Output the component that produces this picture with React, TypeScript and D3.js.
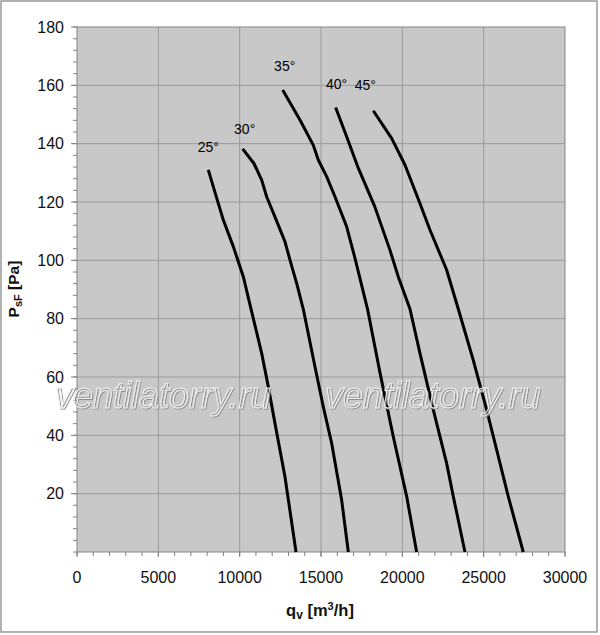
//@ts-nocheck
import React from "react";
import * as d3 from "d3";

// fan curves: [q_v m3/h, P_sF Pa]
const curve25 = [
  [8070, 131], [8995, 113.8], [9610, 104.7], [10225, 94.4], [10700, 83.3],
  [11355, 68.1], [11760, 56.7], [12170, 44.1], [12785, 25.8], [13465, 0],
];
const curve30 = [
  [10185, 138.2], [10880, 133.2], [11355, 127.5], [11660, 121.8], [12170, 114.9],
  [12785, 106.4], [13095, 100.1], [13505, 92.1], [13910, 83.3], [14630, 63.5],
  [15140, 49.8], [15655, 37.3], [16270, 17.8], [16680, 0],
];
const curve35 = [
  [12645, 158.4], [13710, 148.1], [14525, 139.5], [14835, 134.4], [15350, 128.7],
  [15860, 121.8], [16580, 111.5], [17100, 100.5], [17860, 83.3], [18625, 61.5],
  [19445, 39.5], [20270, 19], [20880, 0],
];
const curve40 = [
  [15900, 152.4], [16580, 142.4], [17300, 131.5], [18300, 118.5], [19240, 103.5],
  [19750, 94.4], [20470, 83.3], [21085, 68.1], [21905, 48.7], [22725, 30.4],
  [23135, 19], [23850, 0],
];
const curve45 = [
  [18215, 151.3], [19345, 141.8], [20165, 132.7], [21085, 119.5], [21700, 110.4],
  [22725, 96.7], [23440, 83.3], [24360, 65.8], [25185, 48.7], [25800, 35],
  [26515, 19], [27435, 0],
];
const angles = ["25°", "30°", "35°", "40°", "45°"];
const curves = [curve25, curve30, curve35, curve40, curve45];

const xTicks = [0, 5000, 10000, 15000, 20000, 25000, 30000];
const yTicks = [20, 40, 60, 80, 100, 120, 140, 160, 180];

const W = 600;
const H = 635;
const left = 77;
const right = 565;
const top = 27;
const bottom = 552;
const font = "Arial, 'Liberation Sans', sans-serif";

export default function App() {
  const x = d3.scaleLinear().domain([0, 30000]).range([left, right]);
  const y = d3.scaleLinear().domain([0, 180]).range([bottom, top]);
  const line = d3
    .line()
    .x((d) => x(d[0]))
    .y((d) => y(d[1]));

  const xMinor = d3.range(0, 30001, 1000);
  const yMinor = d3.range(0, 181, 4);

  return (
    <>
      <style>{`body{margin:0}`}</style>
      <svg width={W} height={H} style={{ display: "block", fontFamily: font }}>
        <defs>
          <filter id="emboss" x="-5%" y="-20%" width="110%" height="140%">
            <feOffset in="SourceAlpha" dx={0.8} dy={0.8} result="off" />
            <feFlood floodColor="#8c8c8c" />
            <feComposite in2="off" operator="in" result="shadow" />
            <feMerge>
              <feMergeNode in="shadow" />
              <feMergeNode in="SourceGraphic" />
            </feMerge>
          </filter>
        </defs>
        <rect x={0} y={0} width={W} height={H} fill="#fff" />
        <rect x={1} y={1} width={596} height={631} fill="none" stroke="#999" strokeWidth={1.5} />

        {/* plot area */}
        <rect x={left} y={top} width={right - left} height={bottom - top} fill="#c8c8c8" />
        {xTicks.slice(1, -1).map((t) => (
          <line key={"gx" + t} x1={x(t)} x2={x(t)} y1={top} y2={bottom} stroke="#9a9a9a" />
        ))}
        {yTicks.slice(0, -1).map((t) => (
          <line key={"gy" + t} x1={left} x2={right} y1={y(t)} y2={y(t)} stroke="#9a9a9a" />
        ))}
        <rect x={left} y={top} width={right - left} height={bottom - top} fill="none" stroke="#858585" />

        {/* y axis ticks */}
        {yMinor.map((t) => (
          <line key={"ym" + t} x1={left - 4} x2={left} y1={y(t)} y2={y(t)} stroke="#808080" />
        ))}
        {yTicks.map((t) => (
          <g key={"yt" + t}>
            <line x1={left - 6} x2={left} y1={y(t)} y2={y(t)} stroke="#808080" />
            <text x={64} y={y(t)} dy="0.36em" textAnchor="end" fontSize={16} fill="#111">
              {t}
            </text>
          </g>
        ))}

        {/* x axis ticks */}
        {xMinor.map((t) => (
          <line key={"xm" + t} x1={x(t)} x2={x(t)} y1={bottom} y2={bottom + 4} stroke="#808080" />
        ))}
        {xTicks.map((t) => (
          <g key={"xt" + t}>
            <line x1={x(t)} x2={x(t)} y1={bottom} y2={bottom + 5} stroke="#808080" />
            <text x={x(t)} y={583} textAnchor="middle" fontSize={16} fill="#111">
              {t}
            </text>
          </g>
        ))}

        {/* curves */}
        {curves.map((c, i) => (
          <path key={"c" + i} d={line(c)} fill="none" stroke="#000" strokeWidth={3} strokeLinejoin="round" />
        ))}
        {curves.map((c, i) => (
          <text
            key={"l" + i}
            x={x(c[0][0]) + [0, 2, 2, 1, -8][i]}
            y={y(c[0][1]) - [18, 15, 19, 19, 21][i]}
            textAnchor="middle"
            fontSize={14}
            fill="#000"
          >
            {angles[i]}
          </text>
        ))}

        {/* watermark */}
        {[55, 325].map((wx) => (
          <text
            key={"w" + wx}
            x={wx}
            y={408}
            fontSize={36}
            fontStyle="italic"
            fill="none"
            stroke="#f2f2f2"
            strokeWidth={1}
            filter="url(#emboss)"
          >
            ventilatorry.ru
          </text>
        ))}

        {/* axis titles */}
        <text x={320} y={616} fontSize={16.5} fontWeight="bold" textAnchor="middle" fill="#111">
          q<tspan fontSize={12} dy={3}>v</tspan>
          <tspan dy={-3}> [m</tspan>
          <tspan fontSize={11} dy={-6}>3</tspan>
          <tspan dy={6}>/h]</tspan>
        </text>
        <text
          transform="translate(19,289) rotate(-90)"
          fontSize={15.5}
          fontWeight="bold"
          textAnchor="middle"
          fill="#111"
        >
          P<tspan fontSize={11} dy={3}>sF</tspan>
          <tspan dy={-3}> [Pa]</tspan>
        </text>
      </svg>
    </>
  );
}
